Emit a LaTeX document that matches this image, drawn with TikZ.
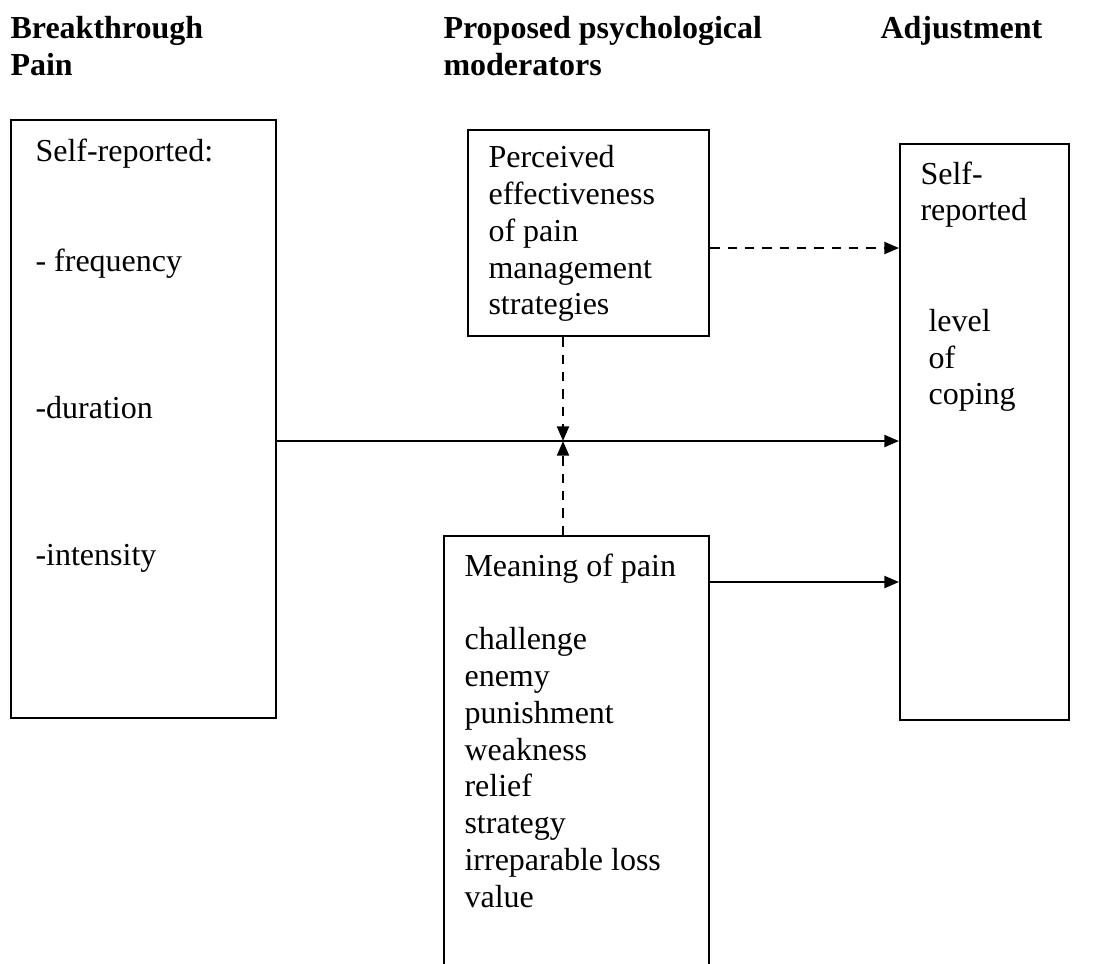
\documentclass[tikz,border=0pt]{standalone}
\usepackage{fontspec}
\setmainfont{Liberation Serif}
\usetikzlibrary{arrows.meta, positioning}

\begin{document}
\begin{tikzpicture}[x=0.375pt, y=-0.375pt,
    box/.style={rectangle, draw, line width=0.8pt, inner sep=0pt, anchor=north west},
    txt/.style={anchor=north west, align=left, inner sep=0pt, font=\fontsize{12}{13.8}\selectfont},
    head/.style={txt, font=\fontsize{12}{13.8}\selectfont\bfseries},
    arrow/.style={-{Triangle[length=5.5pt, width=4.5pt]}, line width=0.8pt},
    dasharrow/.style={arrow, dash pattern=on 3.5pt off 3pt}]

    \clip (0,0) rectangle (1093,963);

    % Headings
    \node[head] (hpain) at (10,16) {Breakthrough\\Pain};
    \node[head] (hmod) at (443,16) {Proposed psychological\\moderators};
    \node[head] (hadj) at (880,16) {Adjustment};

    % Boxes
    \node[box, minimum width=99.4pt, minimum height=224.3pt] (pain) at (10,119) {};
    \node[box, minimum width=90.4pt, minimum height=77.3pt] (perceived) at (467,129) {};
    \node[box, minimum width=99.4pt, minimum height=187.5pt] (meaning) at (443,535) {};
    \node[box, minimum width=63.4pt, minimum height=216pt] (adjust) at (899,143) {};

    % Box texts
    \node[txt] (paintxt) at (35,138) {Self-reported:\\[27.6pt]- frequency\\[41.4pt]-duration\\[41.4pt]-intensity};
    \node[txt] (perctxt) at (488,145) {Perceived\\effectiveness\\of pain\\management\\strategies};
    \node[txt] (meantxt) at (464,553) {Meaning of pain\\[13.8pt]challenge\\enemy\\punishment\\weakness\\relief\\strategy\\irreparable loss\\value};
    \node[txt] (adjtxt) at (920,161) {Self-\\reported\\[27.6pt]\ level\\\ of\\\ coping};

    % Arrows
    \coordinate (cross) at (563,441);
    \draw[arrow] (pain.east |- cross) -- (adjust.west |- cross);
    \draw[dasharrow] (perceived.south -| cross) -- (cross);
    \draw[dasharrow] (meaning.north -| cross) -- (cross);
    \draw[dasharrow] (perceived.east |- 0,248) -- (adjust.west |- 0,248);
    \draw[arrow] (meaning.east |- 0,582) -- (adjust.west |- 0,582);

\end{tikzpicture}
\end{document}
